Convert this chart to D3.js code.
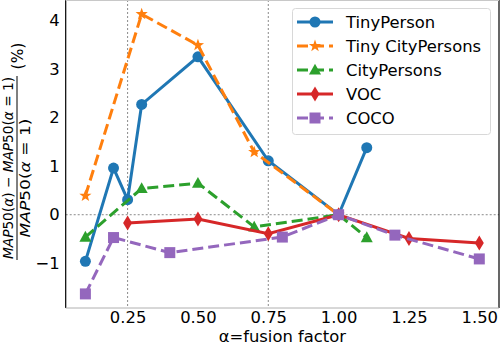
<!DOCTYPE html>
<html>
<head>
<meta charset="utf-8">
<script src="https://cdn.jsdelivr.net/npm/d3@7"></script>
<style>
  html, body { margin: 0; padding: 0; background: #fff; }
  svg { display: block; font-family: "DejaVu Sans", sans-serif; }
</style>
</head>
<body>
<svg id="chart" width="500" height="346"></svg>
<script>
// ---- data ----
const seriesNames = ["TinyPerson", "Tiny CityPersons", "CityPersons", "VOC", "COCO"];
const tinyPersonX = [0.1, 0.2, 0.25, 0.3, 0.5, 0.75, 1.0, 1.1];
const tinyPersonY = [-0.96, 0.96, 0.31, 2.27, 3.25, 1.11, 0.0, 1.38];
const tinyCityX = [0.1, 0.3, 0.5, 0.7, 1.0];
const tinyCityY = [0.39, 4.13, 3.49, 1.29, 0.0];
const cityX = [0.1, 0.3, 0.5, 0.7, 1.0, 1.1];
const cityY = [-0.46, 0.54, 0.65, -0.25, 0.0, -0.47];
const vocX = [0.25, 0.5, 0.75, 1.0, 1.25, 1.5];
const vocY = [-0.17, -0.09, -0.39, 0.0, -0.49, -0.58];
const cocoX = [0.1, 0.2, 0.4, 0.8, 1.0, 1.2, 1.5];
const cocoY = [-1.63, -0.47, -0.78, -0.46, 0.0, -0.42, -0.91];
const xTicks = [0.25, 0.5, 0.75, 1.0, 1.25, 1.5];
const yTicks = [-1, 0, 1, 2, 3, 4];
const xGrid = [0.25, 0.75];
const yGrid = [0];

const colors = ["#1f77b4", "#ff7f0e", "#2ca02c", "#d62728", "#9467bd"];
const markers = ["circle", "star", "triangle", "diamond", "square"];
const dashed = [false, true, true, false, true];
const seriesX = [tinyPersonX, tinyCityX, cityX, vocX, cocoX];
const seriesY = [tinyPersonY, tinyCityY, cityY, vocY, cocoY];

// ---- layout ----
const svg = d3.select("#chart");
const L = 65.7, R = 499, T = 0, B = 308;
const x = d3.scaleLinear().domain([0.03, 1.57]).range([L, R]);
const y = d3.scaleLinear().domain([-1.92, 4.42]).range([B, T]);
const FS = 16.4;

// grid
svg.append("g").selectAll("line").data(xGrid).join("line")
  .attr("x1", d => x(d)).attr("x2", d => x(d)).attr("y1", T).attr("y2", B)
  .attr("stroke", "#8a8a8a").attr("stroke-width", 1).attr("stroke-dasharray", "2,2");
svg.append("g").selectAll("line").data(yGrid).join("line")
  .attr("y1", d => y(d)).attr("y2", d => y(d)).attr("x1", L).attr("x2", R)
  .attr("stroke", "#8a8a8a").attr("stroke-width", 1).attr("stroke-dasharray", "2,2");

// marker paths
const circlePath = "M5.5,0A5.5,5.5,0,1,1,-5.5,0A5.5,5.5,0,1,1,5.5,0Z";
function markerPath(type) {
  if (type === "circle") return circlePath;
  if (type === "square") return "M-5.5,-5.5H5.5V5.5H-5.5Z";
  if (type === "triangle") return "M0,-6.2L6,4.6L-6,4.6Z";
  if (type === "diamond") return "M0,-7.5L4.5,0L0,7.5L-4.5,0Z";
  if (type === "star") {
    const ro = 6.4, ri = 2.6; let p = "";
    for (let i = 0; i < 10; i++) {
      const r = i % 2 ? ri : ro;
      const a = -Math.PI / 2 + i * Math.PI / 5;
      p += (i ? "L" : "M") + (r * Math.cos(a)).toFixed(2) + "," + (r * Math.sin(a)).toFixed(2);
    }
    return p + "Z";
  }
}

// series
const line = d3.line().x(d => x(d[0])).y(d => y(d[1]));
seriesNames.forEach((name, i) => {
  const pts = seriesX[i].map((v, j) => [v, seriesY[i][j]]);
  const g = svg.append("g");
  g.append("path").datum(pts).attr("d", line)
    .attr("fill", "none").attr("stroke", colors[i]).attr("stroke-width", 3)
    .attr("stroke-dasharray", dashed[i] ? "11,5" : null);
  g.selectAll("path.m").data(pts).join("path").attr("class", "m")
    .attr("d", markerPath(markers[i]))
    .attr("transform", d => `translate(${x(d[0])},${y(d[1])})`)
    .attr("fill", colors[i]);
});

// spines
svg.append("line").attr("x1", L).attr("x2", L).attr("y1", T).attr("y2", B).attr("stroke", "#000").attr("stroke-width", 1.2);
svg.append("line").attr("x1", R).attr("x2", R).attr("y1", T).attr("y2", B).attr("stroke", "#000").attr("stroke-width", 1.2);
svg.append("line").attr("x1", L).attr("x2", R).attr("y1", B).attr("y2", B).attr("stroke", "#b0b0b0").attr("stroke-width", 1);
svg.append("line").attr("x1", L).attr("x2", R).attr("y1", 0.5).attr("y2", 0.5).attr("stroke", "#c8c8c8").attr("stroke-width", 1);

// axes (labels only)
const xAxis = d3.axisBottom(x).tickValues(xTicks).tickFormat(d3.format(".2f")).tickSize(0).tickPadding(3);
const gx = svg.append("g").attr("transform", `translate(0,${B})`).call(xAxis);
gx.select(".domain").remove();
gx.selectAll("text").attr("font-size", FS).attr("font-family", "DejaVu Sans").attr("fill", "#000");

const yAxis = d3.axisLeft(y).tickValues(yTicks).tickFormat(d => d < 0 ? "\u2212" + Math.abs(d) : d).tickSize(0).tickPadding(6);
const gy = svg.append("g").attr("transform", `translate(${L},0)`).call(yAxis);
gy.select(".domain").remove();
gy.selectAll("text").attr("font-size", FS).attr("font-family", "DejaVu Sans").attr("fill", "#000");

// x label
svg.append("text").attr("x", (L + R) / 2).attr("y", 342).attr("text-anchor", "middle")
  .attr("font-size", 16.4).text("α=fusion factor");

// y label (fraction)
const yl = svg.append("g").attr("transform", "translate(17,168) rotate(-90)");
yl.append("line").attr("x1", -92).attr("x2", 92).attr("y1", 0).attr("y2", 0).attr("stroke", "#000").attr("stroke-width", 1);
function mathText(sel, parts) {
  parts.forEach(p => sel.append("tspan").attr("font-style", p[1] ? "italic" : "normal").text(p[0]));
}
const num = yl.append("text").attr("x", 0).attr("y", -4).attr("text-anchor", "middle").attr("font-size", 13.2)
  .attr("textLength", 182).attr("lengthAdjust", "spacingAndGlyphs");
mathText(num, [["MAP", 1], ["50(", 0], ["α", 1], [") \u2212 ", 0], ["MAP", 1], ["50(", 0], ["α", 1], [" = 1)", 0]]);
const den = yl.append("text").attr("x", -10).attr("y", 13).attr("text-anchor", "middle").attr("font-size", 13.2)
  .attr("textLength", 119).attr("lengthAdjust", "spacingAndGlyphs");
mathText(den, [["MAP", 1], ["50(", 0], ["α", 1], [" = 1)", 0]]);
yl.append("text").attr("x", 112).attr("y", 6).attr("text-anchor", "middle").attr("font-size", 15.5).text("(%)");

// legend
const lg = svg.append("g");
lg.append("rect").attr("x", 292.5).attr("y", 8.5).attr("width", 198).attr("height", 126).attr("rx", 3)
  .attr("fill", "#fff").attr("fill-opacity", 0.85).attr("stroke", "#d8d8d8").attr("stroke-width", 1);
seriesNames.forEach((name, i) => {
  const cy = 22 + i * 24;
  lg.append("line").attr("x1", 297).attr("x2", 333).attr("y1", cy).attr("y2", cy)
    .attr("stroke", colors[i]).attr("stroke-width", 3)
    .attr("stroke-dasharray", dashed[i] ? "11,5" : null);
  lg.append("path").attr("d", markerPath(markers[i]))
    .attr("transform", `translate(315,${cy})`).attr("fill", colors[i]);
  lg.append("text").attr("x", 346).attr("y", cy).attr("dy", "0.36em").attr("font-size", FS).text(name);
});
</script>
</body>
</html>
